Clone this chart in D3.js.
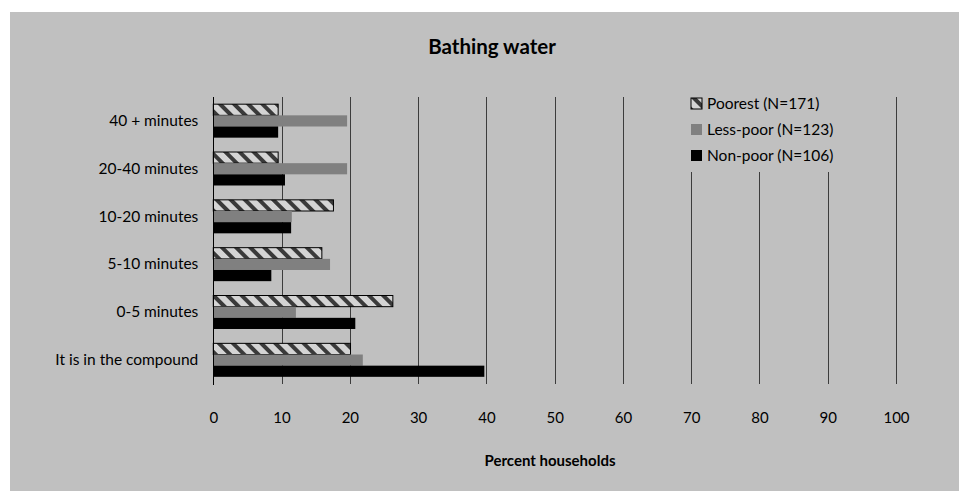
<!DOCTYPE html>
<html>
<head>
<meta charset="utf-8">
<script src="https://cdn.jsdelivr.net/npm/d3@7"></script>
<style>
  html, body { margin: 0; padding: 0; background: #fff; }
  svg { display: block; }
  text { font-family: Lato, "Open Sans", sans-serif; fill: #000; }
</style>
</head>
<body>
<svg id="chart" width="959" height="491"></svg>
<script>
const categories = ["40 + minutes", "20-40 minutes", "10-20 minutes", "5-10 minutes", "0-5 minutes", "It is in the compound"];
const seriesNames = ["Poorest (N=171)", "Less-poor (N=123)", "Non-poor (N=106)"];
const poorest  = [9.5, 9.5, 17.6, 15.9, 26.3, 20.1];
const lessPoor = [19.6, 19.6, 11.5, 17.1, 12.1, 21.9];
const nonPoor  = [9.5, 10.5, 11.4, 8.5, 20.8, 39.7];
const xTicks = [0, 10, 20, 30, 40, 50, 60, 70, 80, 90, 100];
const chartTitle = "Bathing water";
const xTitle = "Percent households";

const seriesValues = [poorest, lessPoor, nonPoor];
const fills = ["url(#hatch)", "#808080", "#000000"];

const svg = d3.select("#chart");

// defs: hatch pattern
const defs = svg.append("defs");
const pat = defs.append("pattern")
  .attr("id", "hatch")
  .attr("patternUnits", "userSpaceOnUse")
  .attr("width", 10).attr("height", 10)
  .attr("patternTransform", "rotate(-45)");
pat.append("rect").attr("width", 10).attr("height", 10).attr("fill", "#d4d4d4");
pat.append("rect").attr("x", 0).attr("y", 0).attr("width", 4).attr("height", 10).attr("fill", "#3a3a3a");

// background panel
svg.append("rect").attr("x", 10).attr("y", 12).attr("width", 949).attr("height", 479).attr("fill", "#c0c0c0");

const x = d3.scaleLinear().domain([0, 100]).range([213.3, 896]);
const y = d3.scaleBand().domain(categories).range([97, 384]).paddingInner(0.3).paddingOuter(0.15);
const yInner = d3.scaleBand().domain(d3.range(seriesNames.length)).range([0, y.bandwidth()]);

// gridlines
svg.append("g").selectAll("line").data(xTicks.slice(1)).join("line")
  .attr("x1", d => Math.round(x(d)) + 0.5).attr("x2", d => Math.round(x(d)) + 0.5)
  .attr("y1", 97).attr("y2", 384)
  .attr("stroke", "#3c3c3c").attr("stroke-width", 1);

// bars
const rows = [];
categories.forEach((c, i) => seriesValues.forEach((s, j) => rows.push({c, j, v: s[i]})));
svg.append("g").selectAll("rect").data(rows).join("rect")
  .attr("x", x(0))
  .attr("y", d => y(d.c) + yInner(d.j))
  .attr("width", d => x(d.v) - x(0))
  .attr("height", yInner.bandwidth())
  .attr("fill", d => fills[d.j])
  .attr("stroke", d => d.j === 0 ? "#000" : "none")
  .attr("stroke-width", 1);

// x axis labels
const xAxis = d3.axisBottom(x).tickValues(xTicks).tickSize(0).tickPadding(0);
const gx = svg.append("g").attr("transform", "translate(0,412)").call(xAxis);
gx.select(".domain").remove();
gx.selectAll("text").attr("font-size", 15).attr("font-family", "Lato, sans-serif").attr("fill", "#000").attr("dy", "0.71em").attr("y", 0);

// y axis
const yAxis = d3.axisLeft(y).tickSize(0).tickPadding(15);
const gy = svg.append("g").attr("transform", `translate(${x(0)},0)`).call(yAxis);
gy.select(".domain").remove();
gy.selectAll("text").attr("font-size", 15.5).attr("font-family", "Lato, sans-serif").attr("fill", "#000");
svg.append("line").attr("x1", Math.round(x(0)) + 0.5).attr("x2", Math.round(x(0)) + 0.5)
  .attr("y1", 97).attr("y2", 385).attr("stroke", "#000").attr("stroke-width", 1);

// legend
svg.append("rect").attr("x", 684).attr("y", 96).attr("width", 196).attr("height", 76).attr("fill", "#c0c0c0");
const leg = svg.append("g").selectAll("g").data(seriesNames).join("g")
  .attr("transform", (d, i) => `translate(691,${98 + i * 26})`);
leg.append("rect").attr("width", 11).attr("height", 11)
  .attr("fill", (d, i) => fills[i])
  .attr("stroke", (d, i) => i === 0 ? "#000" : "none");
leg.append("text").attr("x", 16).attr("y", 6).attr("dy", "0.35em")
  .attr("font-size", 15.5).text(d => d);

// titles
svg.append("text").attr("x", 492).attr("y", 47).attr("dy", "0.35em").attr("text-anchor", "middle")
  .attr("font-size", 20.5).attr("font-weight", "bold").text(chartTitle);
svg.append("text").attr("x", 550).attr("y", 461).attr("dy", "0.35em").attr("text-anchor", "middle")
  .attr("font-size", 15).attr("font-weight", "bold").text(xTitle);
</script>
</body>
</html>
